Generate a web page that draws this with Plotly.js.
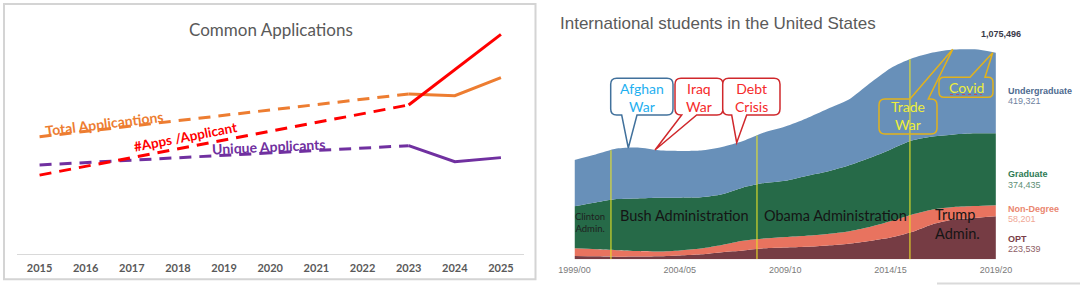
<!DOCTYPE html>
<html>
<head>
<meta charset="utf-8">
<script src="https://cdn.plot.ly/plotly-3.0.1.min.js"></script>
<style>
  html, body { margin: 0; padding: 0; background: #ffffff; }
  #chart { width: 1080px; height: 285px; }
</style>
</head>
<body>
<div id="chart"></div>
<script>
// ---------- Common Applications (index, trend 2015-2023 dashed, actual 2023-2025 solid) ----------
const appYears = [2015, 2016, 2017, 2018, 2019, 2020, 2021, 2022, 2023, 2024, 2025];
const trendYears = [2015, 2023];
const recentYears = [2023, 2024, 2025];
const totalAppsTrend = [51.0, 69.6];
const totalAppsRecent = [69.6, 68.8, 76.7];
const appsPerApplicantTrend = [34.3, 64.8];
const appsPerApplicantRecent = [64.8, 80.0, 95.5];
const uniqueApplicantsTrend = [38.7, 47.1];
const uniqueApplicantsRecent = [47.1, 40.1, 41.9];

// ---------- International students in the United States ----------
const academicYears = ['1999/00','2000/01','2001/02','2002/03','2003/04','2004/05','2005/06',
  '2006/07','2007/08','2008/09','2009/10','2010/11','2011/12','2012/13','2013/14','2014/15',
  '2015/16','2016/17','2017/18','2018/19','2019/20'];
const yearTicks = ['1999/00','2004/05','2009/10','2014/15','2019/20'];
const optStudents = [17000, 15500, 13500, 14500, 16000, 20000, 26000, 37000, 46000, 57000, 61000,
  65000, 72000, 81000, 95000, 113000, 142000, 183000, 207000, 215000, 223539];
const nonDegreeStudents = [40000, 37000, 34000, 28500, 24500, 26000, 30000, 37500, 50000, 51000, 55000,
  58000, 60000, 64000, 73000, 85000, 90000, 76000, 65000, 62000, 58201];
const graduateStudents = [219000, 243000, 266000, 274000, 280000, 275000, 267000, 264000, 278000, 289000, 293000,
  311000, 325000, 343000, 359000, 374000, 386000, 380000, 378000, 379000, 374435];
const undergraduateStudents = [241000, 250000, 263000, 265000, 247000, 243000, 243000, 246000, 242000, 263000, 282000,
  299000, 325000, 342000, 388000, 423000, 427000, 437000, 442000, 437000, 419321];
const totalLatest = '1,075,496';
// Changes of administration, as positions along the academic-year axis
const adminChanges = [1.73, 8.66, 15.92];

// ---------- page geometry helpers (pixel -> paper) ----------
const W = 1080, H = 285;
const px = x => x / W;
const py = y => 1 - y / H;
const P = (x, y) => px(x).toFixed(5) + ',' + py(y).toFixed(5);

// rounded box with a pointer tail on its top or bottom edge
function bubble(x0, y0, x1, y1, r, side, b0, b1, tx, ty) {
  let d = 'M' + P(x0 + r, y0);
  if (side === 'top') d += ' L' + P(b0, y0) + ' L' + P(tx, ty) + ' L' + P(b1, y0);
  d += ' L' + P(x1 - r, y0) + ' Q' + P(x1, y0) + ' ' + P(x1, y0 + r);
  d += ' L' + P(x1, y1 - r) + ' Q' + P(x1, y1) + ' ' + P(x1 - r, y1);
  if (side === 'bottom') d += ' L' + P(b1, y1) + ' L' + P(tx, ty) + ' L' + P(b0, y1);
  d += ' L' + P(x0 + r, y1) + ' Q' + P(x0, y1) + ' ' + P(x0, y1 - r);
  d += ' L' + P(x0, y0 + r) + ' Q' + P(x0, y0) + ' ' + P(x0 + r, y0) + ' Z';
  return d;
}

const ORANGE = '#ED7D31', RED = '#FF0000', PURPLE = '#7030A0';
const C_UG = '#6890B9', C_GRAD = '#266A48', C_ND = '#E8735F', C_OPT = '#763C44';
const DASH = '12px,8px';

const traces = [];
function appLine(x, y, color, dash) {
  traces.push({ x: x, y: y, xaxis: 'x', yaxis: 'y', type: 'scatter', mode: 'lines',
    line: { color: color, width: 3, dash: dash }, hoverinfo: 'skip', showlegend: false });
}
appLine(trendYears, totalAppsTrend, ORANGE, DASH);
appLine(trendYears, uniqueApplicantsTrend, PURPLE, DASH);
appLine(trendYears, appsPerApplicantTrend, RED, DASH);
appLine(recentYears, totalAppsRecent, ORANGE, 'solid');
appLine(recentYears, uniqueApplicantsRecent, PURPLE, 'solid');
appLine(recentYears, appsPerApplicantRecent, RED, 'solid');

function layer(y, color) {
  traces.push({ x: academicYears, y: y, xaxis: 'x2', yaxis: 'y2', type: 'scatter', mode: 'lines',
    stackgroup: 'students', fillcolor: color,
    line: { width: 0, shape: 'spline', smoothing: 0.7, color: color },
    hoverinfo: 'skip', showlegend: false });
}
layer(optStudents, C_OPT);
layer(nonDegreeStudents, C_ND);
layer(graduateStudents, C_GRAD);
layer(undergraduateStudents, C_UG);

const totals = academicYears.map((_, i) =>
  optStudents[i] + nonDegreeStudents[i] + graduateStudents[i] + undergraduateStudents[i]);
function totalAt(pos) {
  const i = Math.min(Math.floor(pos), totals.length - 2);
  const f = pos - i;
  return totals[i] * (1 - f) + totals[i + 1] * f;
}

// ---------- axes geometry ----------
const leftBottom = 254, leftTop = 24;
const rightBottom = 259.3, rightTop = 40, pxPerStudent = 1 / 5206;
const yMax2 = (rightBottom - rightTop) / pxPerStudent;

const shapes = [];
// panel frame around the Common Applications chart
shapes.push({ type: 'rect', xref: 'paper', yref: 'paper', x0: px(4), x1: px(535.5), y0: py(4), y1: py(279.3),
  line: { color: '#D4D4D4', width: 2 }, layer: 'below' });
// light frame edge under the right panel
shapes.push({ type: 'line', xref: 'paper', yref: 'paper', x0: px(937), x1: px(1080), y0: py(283.5), y1: py(283.5),
  line: { color: '#DADADA', width: 2 } });
// administration boundaries
adminChanges.forEach(p => shapes.push({ type: 'line', xref: 'x2', yref: 'y2', x0: p, x1: p, y0: 0, y1: totalAt(p),
  line: { color: 'rgba(232,226,40,0.9)', width: 1.2 }, layer: 'above' }));

// callouts
const BLUE_EDGE = '#41719C', RED_EDGE = '#D0282C', GOLD_EDGE = '#E2B21C';
shapes.push({ type: 'path', xref: 'paper', yref: 'paper', path: bubble(610.7, 78.3, 673, 115, 6, 'bottom', 621.7, 637, 628.3, 148),
  fillcolor: '#ffffff', line: { color: BLUE_EDGE, width: 1.5 } });
shapes.push({ type: 'path', xref: 'paper', yref: 'paper', path: bubble(675, 78.3, 723, 115, 6, 'bottom', 681.7, 696.7, 655, 150),
  fillcolor: '#ffffff', line: { color: RED_EDGE, width: 1.5 } });
shapes.push({ type: 'path', xref: 'paper', yref: 'paper', path: bubble(722.7, 78.3, 780, 115, 6, 'bottom', 731.7, 746.7, 736.7, 142.7),
  fillcolor: '#ffffff', line: { color: RED_EDGE, width: 1.5 } });
shapes.push({ type: 'path', xref: 'paper', yref: 'paper', path: bubble(879, 99, 937, 134, 6, 'top', 910, 928.3, 952.7, 49.3),
  fillcolor: 'rgba(0,0,0,0)', line: { color: GOLD_EDGE, width: 1.5 } });
shapes.push({ type: 'path', xref: 'paper', yref: 'paper', path: bubble(939, 77.3, 993, 97.3, 5, 'top', 970, 985, 992.7, 52.7),
  fillcolor: 'rgba(0,0,0,0)', line: { color: GOLD_EDGE, width: 1.5 } });
// proofing squiggle under "Covid"
shapes.push({ type: 'line', xref: 'paper', yref: 'paper', x0: px(950), x1: px(982), y0: py(94.5), y1: py(94.5),
  line: { color: 'rgba(215,60,70,0.75)', width: 1, dash: 'dot' } });

const annotations = [];
function label(text, x, y, size, color, opts) {
  annotations.push(Object.assign({ xref: 'paper', yref: 'paper', x: px(x), y: py(y), text: text, showarrow: false,
    xanchor: 'center', yanchor: 'middle', font: { family: 'Lato, sans-serif', size: size, color: color } }, opts || {}));
}
function boldLato(size, color) { return { family: 'Lato, sans-serif', size: size, color: color, weight: 'bold' }; }
label('Common Applications', 270.7, 29.3, 17, '#595959');
label('Total Applicantions', 104, 123.5, 14, ORANGE, { textangle: -7, font: boldLato(14, ORANGE) });
label('#Apps /Applicant', 185, 137, 13.5, RED, { textangle: -11, font: boldLato(13.5, RED) });
label('Unique Applicants', 269, 146.5, 14, PURPLE, { textangle: -2.5, font: boldLato(14, PURPLE) });

const ARIAL = 'Liberation Sans, Arial, sans-serif';
label('International students in the United States', 558, 23.3, 17, '#5A5A5A', { xanchor: 'left', font: { family: ARIAL, size: 17, color: '#5A5A5A' } });
label(totalLatest, 1000.7, 34, 9, '#3A3A48', { font: { family: ARIAL, size: 9, color: '#3A3A48', weight: 'bold' } });
function seriesLabel(name, value, y, c1, c2) {
  label('<b>' + name + '</b>', 1006, y, 9, c1, { xanchor: 'left', font: { family: ARIAL, size: 9, color: c1 } });
  label(value, 1006, y + 10.2, 9, c2, { xanchor: 'left', font: { family: ARIAL, size: 9, color: c2 } });
}
seriesLabel('Undergraduate', '419,321', 90.7, '#4E6A90', '#6F82A0');
seriesLabel('Graduate', '374,435', 174.3, '#2E7A54', '#5E8F76');
seriesLabel('Non-Degree', '58,201', 209, '#EA8670', '#F0A796');
seriesLabel('OPT', '223,539', 239.3, '#7A3E48', '#8E5E66');

label('Afghan<br>War', 642, 97.2, 14, '#1FB0F0');
label('Iraq<br>War', 699, 97.2, 14, '#F52A2A');
label('Debt<br>Crisis', 751.5, 97.2, 14, '#F52A2A');
label('Trade<br>War', 908.3, 115.8, 14, '#EEEE3A');
label('Covid', 966, 87.3, 14, '#EEEE3A');

label('Clinton<br>Admin.', 590, 222, 9.5, '#1E1E1E');
label('Bush Administration', 684.7, 215, 14.5, '#151515');
label('Obama Administration', 835, 215, 14.5, '#151515');
label('Trump<br>Admin.', 933, 223.5, 14.5, '#151515', { xanchor: 'left', align: 'left' });

const layout = {
  width: W, height: H,
  margin: { l: 0, r: 0, t: 0, b: 0 },
  paper_bgcolor: '#ffffff', plot_bgcolor: 'rgba(0,0,0,0)',
  showlegend: false,
  xaxis: {
    domain: [px(16.5), px(524)], range: [2014.5, 2025.5], anchor: 'y',
    tickvals: appYears, ticktext: appYears.map(String),
    showline: true, linecolor: '#D9D9D9', linewidth: 1.2, ticks: '', showgrid: false, zeroline: false,
    ticklabelstandoff: 4,
    tickfont: { family: 'Lato, sans-serif', size: 11, color: '#595959', weight: 'bold' },
    fixedrange: true
  },
  yaxis: {
    domain: [py(leftBottom), py(leftTop)], range: [0, 100], anchor: 'x',
    visible: false, fixedrange: true
  },
  xaxis2: {
    domain: [px(574.5), px(995.9)], type: 'category', categoryorder: 'array', categoryarray: academicYears,
    range: [0, 20], anchor: 'y2',
    tickvals: yearTicks, ticktext: yearTicks,
    showline: false, ticks: '', showgrid: false, zeroline: false,
    ticklabelstandoff: 4,
    tickfont: { family: ARIAL, size: 9, color: '#7A7A7A' },
    fixedrange: true
  },
  yaxis2: {
    domain: [py(rightBottom), py(rightTop)], range: [0, yMax2], anchor: 'x2',
    visible: false, fixedrange: true
  },
  shapes: shapes,
  annotations: annotations
};

Plotly.newPlot('chart', traces, layout, { displayModeBar: false, staticPlot: true });
</script>
</body>
</html>
